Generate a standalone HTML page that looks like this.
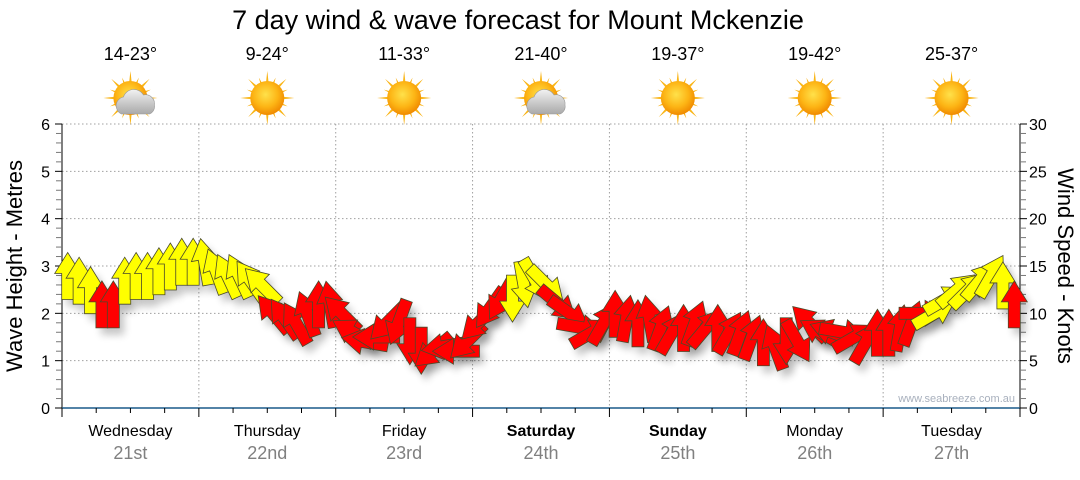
<!DOCTYPE html>
<html><head><meta charset="utf-8">
<style>
body{margin:0;background:#fff;width:1080px;height:475px;overflow:hidden;font-family:"Liberation Sans",sans-serif;}
svg text{font-family:"Liberation Sans",sans-serif;}
</style></head>
<body>
<svg id="chart" width="1080" height="475" viewBox="0 0 1080 475" xmlns="http://www.w3.org/2000/svg">
<defs>
<filter id="sh" x="-50%" y="-50%" width="200%" height="200%"><feGaussianBlur stdDeviation="4"/></filter>
<radialGradient id="sun" cx="45%" cy="40%" r="60%"><stop offset="0" stop-color="#ffe14a"/><stop offset="0.6" stop-color="#fdb515"/><stop offset="1" stop-color="#f08a00"/></radialGradient>
<linearGradient id="ray" x1="0" y1="0" x2="0" y2="1"><stop offset="0" stop-color="#f7a800"/><stop offset="1" stop-color="#ffd84a"/></linearGradient>
<linearGradient id="cloud" x1="0" y1="0" x2="0" y2="1"><stop offset="0" stop-color="#f2f2f2"/><stop offset="1" stop-color="#a9a9a9"/></linearGradient>
</defs>
<text x="518" y="29" text-anchor="middle" font-size="27" fill="#000">7 day wind &amp; wave forecast for Mount Mckenzie</text>
<g id="grid"></g><g id="axes"></g><g id="icons"></g><g id="shadows"></g><g id="arrows"></g>
<text transform="translate(22,266) rotate(-90)" text-anchor="middle" font-size="22" fill="#000">Wave Height - Metres</text>
<text transform="translate(1058,266) rotate(90)" text-anchor="middle" font-size="22" fill="#000">Wind Speed - Knots</text>
<text x="1015" y="402" text-anchor="end" font-size="11" fill="#a8b0bd">www.seabreeze.com.au</text>
</svg>
<script>
const days=["Wednesday","Thursday","Friday","Saturday","Sunday","Monday","Tuesday"];
const dates=["21st","22nd","23rd","24th","25th","26th","27th"];
const boldDays=[false,false,false,true,true,false,false];
const temps=["14-23°","9-24°","11-33°","21-40°","19-37°","19-42°","25-37°"];
const cloudy=[true,false,false,true,false,false,false];
const waveTicks=[0,1,2,3,4,5,6];
const windTicks=[0,5,10,15,20,25,30];
// wind arrows every 2 hours (hour of week)
const hours=[1,3,5,7,9,11,13,15,17,19,21,23,25,27,29,31,33,35,37,39,41,43,45,47,49,51,53,55,57,59,61,63,65,67,69,71,73,75,77,79,81,83,85,87,89,91,93,95,97,99,101,103,105,107,109,111,113,115,117,119,121,123,125,127,129,131,133,135,137,139,141,143,145,147,149,151,153,155,157,159,161,163,165,167];
const knots=[14,13.5,12.5,11,11,13.5,14,14,14.5,15,15.5,15.5,
15.5,14.5,14,14,13.5,13,10,9.5,9,10,11,11,
10,8,7,7.5,9,9,7,6,6,6.5,6,7,
9,10.5,11.5,11.5,13,13.5,13,11,10,8.5,8,9,
10,9.5,9,9.5,8.5,8,8.5,9,8.5,8.5,8,8,
7.5,7,6.5,7,7,9,8,8,8,7.5,7,8,
8,8.5,9,10,10,11.5,12.5,12.5,13.5,14,13,11];
const dirs=[0,0,0,0,0,0,0,0,0,0,0,0,
-10,-20,-25,-25,-35,-45,-40,-35,-30,-20,0,-10,
-45,-60,-80,-90,-135,-160,180,180,-130,-100,-90,-135,
-135,-145,-150,180,170,150,135,130,125,100,60,30,
0,10,0,-10,20,30,0,20,40,0,30,20,
20,0,-20,180,150,-45,-60,-70,100,60,30,0,
0,10,20,90,60,60,50,45,40,30,0,0];
const colors=["Y","Y","Y","R","R","Y","Y","Y","Y","Y","Y","Y",
"Y","Y","Y","Y","Y","Y","R","R","R","R","R","R",
"R","R","R","R","R","R","R","R","R","R","R","R",
"R","R","R","Y","Y","Y","Y","R","R","R","R","R",
"R","R","R","R","R","R","R","R","R","R","R","R",
"R","R","R","R","R","R","R","R","R","R","R","R",
"R","R","R","R","Y","Y","Y","Y","Y","Y","Y","R"];

const NS="http://www.w3.org/2000/svg";
const X0=62,X1=1020,Y0=408,Y1=124;
const xH=h=>X0+(X1-X0)*h/168;
const yM=m=>Y0-(Y0-Y1)*m/6;
const yK=k=>Y0-(Y0-Y1)*k/30;
function mk(tag,attrs,parent){const e=document.createElementNS(NS,tag);for(const k in attrs)e.setAttribute(k,attrs[k]);parent.appendChild(e);return e;}
const grid=document.getElementById('grid'),axes=document.getElementById('axes'),icons=document.getElementById('icons'),shadows=document.getElementById('shadows'),arrows=document.getElementById('arrows');

for(const m of waveTicks){if(m===0)continue;
const l=mk('line',{x1:X0,x2:X1,y1:yM(m),y2:yM(m),stroke:'#a0a0a0','stroke-dasharray':'1.5,2.5','stroke-width':1},grid);
}
for(let d=1;d<7;d++){const x=xH(d*24);
const l=mk('line',{x1:x,x2:x,y1:Y1,y2:Y0,stroke:'#a0a0a0','stroke-dasharray':'1.5,2.5','stroke-width':1},grid);
}

let a=mk('line',{x1:X0,x2:X0,y1:Y1,y2:Y0,stroke:'#000'},axes);
a=mk('line',{x1:X1,x2:X1,y1:Y1,y2:Y0,stroke:'#000'},axes);
for(let i=0;i<=30;i++){const y=Y0-(Y0-Y1)*i/30;const major=i%5===0;
mk('line',{x1:X0-(major?7:6),x2:X0,y1:y,y2:y,stroke:major?'#000':'#777'},axes);
mk('line',{x1:X1,x2:X1+(major?7:6),y1:y,y2:y,stroke:major?'#000':'#777'},axes);}
for(const m of waveTicks){const t=mk('text',{x:50,y:yM(m)+6,'text-anchor':'end','font-size':16,fill:'#000'},axes);t.textContent=m;
}
for(const k of windTicks){const t=mk('text',{x:1029,y:yK(k)+6,'font-size':16,fill:'#000'},axes);t.textContent=k;
}
a=mk('line',{x1:X0,x2:X1,y1:Y0,y2:Y0,stroke:'#1a5a8a','stroke-width':1.5},axes);
for(let h=0;h<=168;h+=6){const x=xH(h);mk('line',{x1:x,x2:x,y1:Y0,y2:Y0+(h%24===0?9:5),stroke:'#000'},axes);}
days.forEach((d,i)=>{const cx=xH(i*24+12);
let t=mk('text',{x:cx,y:436,'text-anchor':'middle','font-size':16,fill:'#000','font-weight':boldDays[i]?'bold':'normal'},axes);t.textContent=d;

t=mk('text',{x:cx,y:459,'text-anchor':'middle','font-size':18,fill:'#808080'},axes);t.textContent=dates[i];

t=mk('text',{x:cx,y:60,'text-anchor':'middle','font-size':18,fill:'#000'},icons);t.textContent=temps[i];

const g=mk('g',{transform:`translate(${cx},98)`},icons);

for(let r=0;r<16;r++){const ang=r*22.5;const len=r%2===0?27:22;
mk('polygon',{points:`-3,0 0,-${len} 3,0`,fill:'url(#ray)',transform:`rotate(${ang})`},g);}
mk('circle',{r:17,fill:'url(#sun)'},g);
if(cloudy[i]){mk('path',{d:'M-9,16 a9,9 0 0 1 2,-17 a11,11 0 0 1 20,-2 a9,9 0 0 1 11,10 a8,8 0 0 1 -5,9 z',fill:'url(#cloud)',stroke:'#999','stroke-width':0.6},g);}
});

const AP="M-6,24 L6,24 L6,-2 L13,-2 L0,-23 L-13,-2 L-6,-2 Z";
hours.forEach((h,i)=>{const x=xH(h),y=yK(knots[i]);
const s=mk('path',{d:AP,fill:'#000',opacity:0.22,filter:'url(#sh)',transform:`translate(${x+5},${y+7}) rotate(${dirs[i]})`},shadows);

const p=mk('path',{d:AP,fill:colors[i]==='Y'?'#ffff00':'#ff0000',stroke:'#4a4a2a','stroke-width':0.8,'stroke-linejoin':'miter',transform:`translate(${x},${y}) rotate(${dirs[i]})`},arrows);

});
</script>
</body></html>
